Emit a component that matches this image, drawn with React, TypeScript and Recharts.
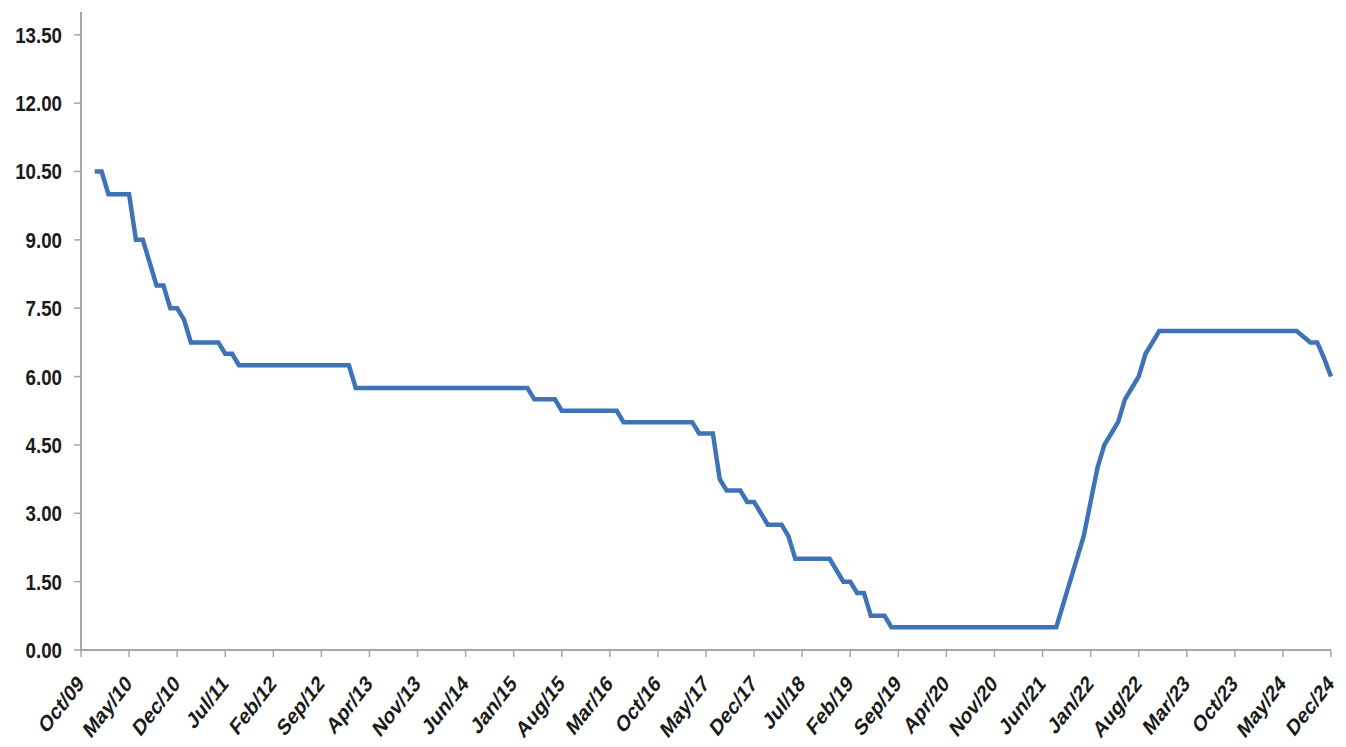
import { LineChart, Line, XAxis, YAxis } from "recharts";

const MONTHS = ["Jan", "Feb", "Mar", "Apr", "May", "Jun", "Jul", "Aug", "Sep", "Oct", "Nov", "Dec"];

// monthly categories Oct/09 .. Dec/24
const categories: string[] = [];
for (let i = 0; i < 183; i++) {
  const k = 9 + i;
  const yr = 9 + Math.floor(k / 12);
  categories.push(`${MONTHS[k % 12]}/${String(yr).padStart(2, "0")}`);
}

// rate, one value per month (null = no data)
const rates2009 = [null, null, 10.5];
const rates2010 = [10.5, 10, 10, 10, 10, 9, 9, 8.5, 8, 8, 7.5, 7.5];
const rates2011 = [7.25, 6.75, 6.75, 6.75, 6.75, 6.75, 6.5, 6.5, 6.25, 6.25, 6.25, 6.25];
const rates2012 = [6.25, 6.25, 6.25, 6.25, 6.25, 6.25, 6.25, 6.25, 6.25, 6.25, 6.25, 6.25];
const rates2013 = [6.25, 5.75, 5.75, 5.75, 5.75, 5.75, 5.75, 5.75, 5.75, 5.75, 5.75, 5.75];
const rates2014 = [5.75, 5.75, 5.75, 5.75, 5.75, 5.75, 5.75, 5.75, 5.75, 5.75, 5.75, 5.75];
const rates2015 = [5.75, 5.75, 5.75, 5.5, 5.5, 5.5, 5.5, 5.25, 5.25, 5.25, 5.25, 5.25];
const rates2016 = [5.25, 5.25, 5.25, 5.25, 5, 5, 5, 5, 5, 5, 5, 5];
const rates2017 = [5, 5, 5, 4.75, 4.75, 4.75, 3.75, 3.5, 3.5, 3.5, 3.25, 3.25];
const rates2018 = [3, 2.75, 2.75, 2.75, 2.5, 2, 2, 2, 2, 2, 2, 1.75];
const rates2019 = [1.5, 1.5, 1.25, 1.25, 0.75, 0.75, 0.75, 0.5, 0.5, 0.5, 0.5, 0.5];
const rates2020 = [0.5, 0.5, 0.5, 0.5, 0.5, 0.5, 0.5, 0.5, 0.5, 0.5, 0.5, 0.5];
const rates2021 = [0.5, 0.5, 0.5, 0.5, 0.5, 0.5, 0.5, 0.5, 1, 1.5, 2, 2.5];
const rates2022 = [3.25, 4, 4.5, 4.75, 5, 5.5, 5.75, 6, 6.5, 6.75, 7, 7];
const rates2023 = [7, 7, 7, 7, 7, 7, 7, 7, 7, 7, 7, 7];
const rates2024 = [7, 7, 7, 7, 7, 7, 7, 6.875, 6.75, 6.75, 6.4, 6];

const rates = [
  ...rates2009, ...rates2010, ...rates2011, ...rates2012, ...rates2013, ...rates2014,
  ...rates2015, ...rates2016, ...rates2017, ...rates2018, ...rates2019, ...rates2020,
  ...rates2021, ...rates2022, ...rates2023, ...rates2024,
];

const yTicks = [0, 1.5, 3, 4.5, 6, 7.5, 9, 10.5, 12, 13.5];

const data = categories.map((month, i) => ({ month, rate: rates[i] }));

const FONT = "'Liberation Sans', Arial, sans-serif";
const AXIS = "#a6a6a6";
const TEXT = "#1a1a1a";

// labels look squeezed sideways in the original, so compress them horizontally
function AngledTick({ x, y, payload }: any) {
  return (
    <g transform={`translate(${x + 4},${y + 26}) scale(0.78,1) rotate(-45)`}>
      <text x={0} y={0} textAnchor="end" fontFamily={FONT} fontWeight="bold" fontSize={23} fill={TEXT}>
        {payload.value}
      </text>
    </g>
  );
}

function ValueTick({ x, y, payload }: any) {
  return (
    <g transform={`translate(${x},${y}) scale(0.85,1)`}>
      <text x={0} y={0} dy="0.36em" textAnchor="end" fontFamily={FONT} fontWeight="bold" fontSize={22} fill={TEXT}>
        {Number(payload.value).toFixed(2)}
      </text>
    </g>
  );
}

export default function App() {
  return (
    <div style={{ width: 1330, height: 735, background: "#fff" }}>
      <LineChart
        width={1330}
        height={735}
        data={data}
        margin={{ top: 4, right: 7, left: 0, bottom: 3 }}
      >
        <XAxis
          dataKey="month"
          interval={6}
          height={90}
          tickSize={7}
          tickMargin={2}
          axisLine={{ stroke: AXIS, strokeWidth: 2 }}
          tickLine={{ stroke: AXIS, strokeWidth: 1.5 }}
          tick={<AngledTick />}
        />
        <YAxis
          width={73}
          domain={[0, 14]}
          ticks={yTicks}
          interval={0}
          tickSize={7}
          tickMargin={12}
          axisLine={{ stroke: AXIS, strokeWidth: 2 }}
          tickLine={{ stroke: AXIS, strokeWidth: 1.5 }}
          tick={<ValueTick />}
        />
        <Line
          type="linear"
          dataKey="rate"
          stroke="#3e73b8"
          strokeWidth={4.5}
          dot={false}
          isAnimationActive={false}
        />
      </LineChart>
    </div>
  );
}
